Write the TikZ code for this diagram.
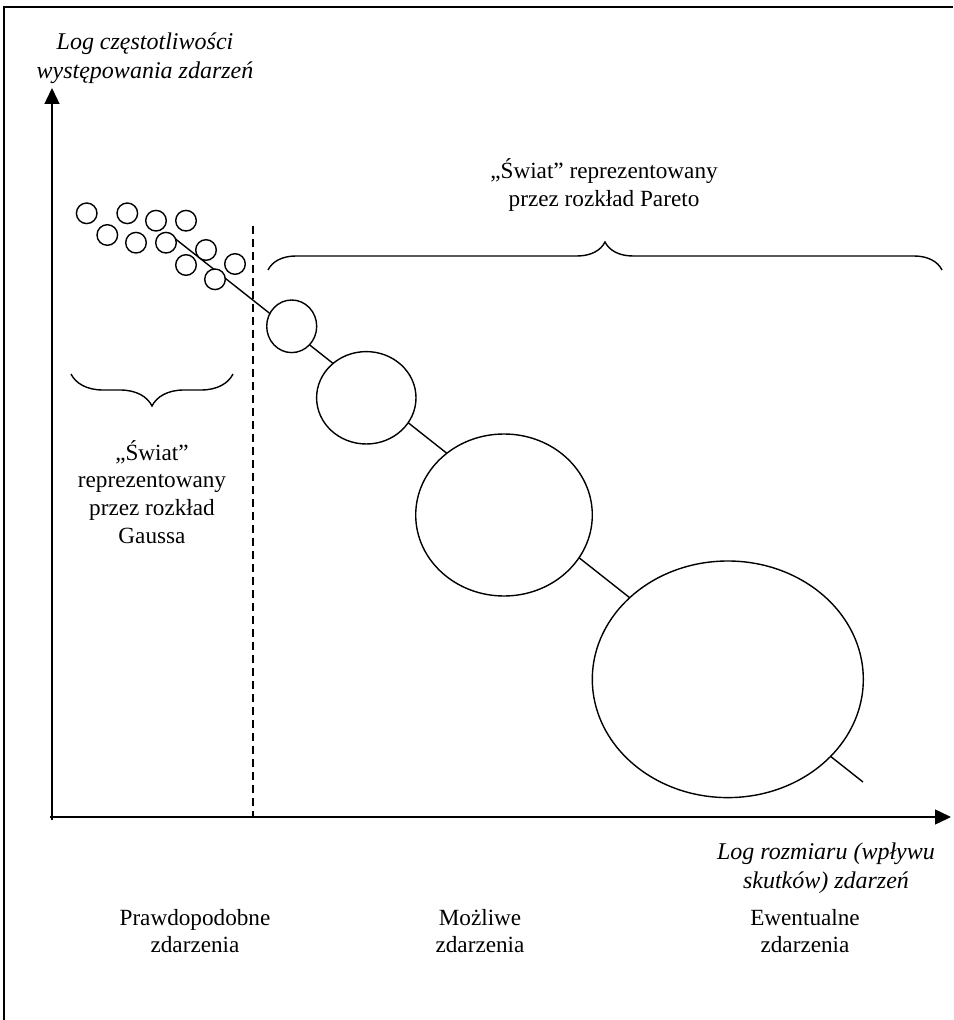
\documentclass[tikz,border=0pt]{standalone}
\usepackage{fontspec}
\setmainfont{Liberation Serif}
\usetikzlibrary{arrows.meta,decorations.pathreplacing}

\tikzset{
  axis/.style={line width=0.7pt, -{Triangle[length=8pt,width=7.5pt]}},
  blob/.style={line width=0.7pt, fill=white},
  txt/.style={align=center, font=\fontsize{11.6}{13.9}\selectfont},
  axtxt/.style={align=center, font=\fontsize{12}{14.5}\selectfont\itshape},
  curly/.style={line width=0.7pt, decorate, decoration={brace, amplitude=#1}}
}

\begin{document}
\begin{tikzpicture}[x=0.5pt, y=-0.5pt]
    \useasboundingbox (0,0) rectangle (953,1020);

    % Frame - only top and left edges
    \draw[line width=0.9pt] (4,1020) -- (4,7) -- (953,7);

    % Axes
    \coordinate (orig) at (52,817);
    \coordinate (ytip) at (52,88);
    \coordinate (xtip) at (951,817);
    \draw[axis] (52,820) -- (ytip);
    \draw[axis] (50,817) -- (xtip);
    \node[axtxt] (ylab) at (145,58) {Log częstotliwości\\występowania zdarzeń};
    \node[axtxt] (xlab) at (826,868) {Log rozmiaru (wpływu\\skutków) zdarzeń};

    % Border between both worlds
    \draw[line width=0.7pt, dash pattern=on 4pt off 2.5pt] (253,226) -- (253,817);

    % Trend line - drawn below the events
    \coordinate (lstart) at (173,237);
    \coordinate (lend) at (863,782);
    \draw[line width=0.7pt] (lstart) -- (lend);

    % Frequent small events (Gauss)
    \foreach \cx/\cy in {86.7/213.3, 127.3/213.3, 156/220.7, 186/220.7,
                         107.3/235, 136/242.7, 166/242.7, 206/250,
                         186/265, 235/264, 215/279.3}
      \draw[blob] (\cx,\cy) circle (10.3);

    % Growing events (Pareto)
    \draw[blob] (291.7,326.3) ellipse [x radius=25, y radius=26.3];
    \draw[blob] (366.3,397.8) ellipse [x radius=49.7, y radius=46.2];
    \draw[blob] (504,515) ellipse [x radius=88.3, y radius=81];
    \draw[blob] (727.8,679.3) ellipse [x radius=135.5, y radius=118.3];

    % Braces with their labels
    \draw[curly=14pt] (268,270) -- (942,270);
    \node[txt] (pareto) at (604,185) {„Świat” reprezentowany\\przez rozkład Pareto};
    \draw[curly=16pt] (233,374) -- (71,374);
    \node[txt] (gauss) at (152,492) {„Świat”\\reprezentowany\\przez rozkład\\Gaussa};

    % Kinds of events
    \node[txt] (likely) at (195,931) {Prawdopodobne\\zdarzenia};
    \node[txt] (possible) at (480,931) {Możliwe\\zdarzenia};
    \node[txt] (eventual) at (805,931) {Ewentualne\\zdarzenia};

\end{tikzpicture}
\end{document}
